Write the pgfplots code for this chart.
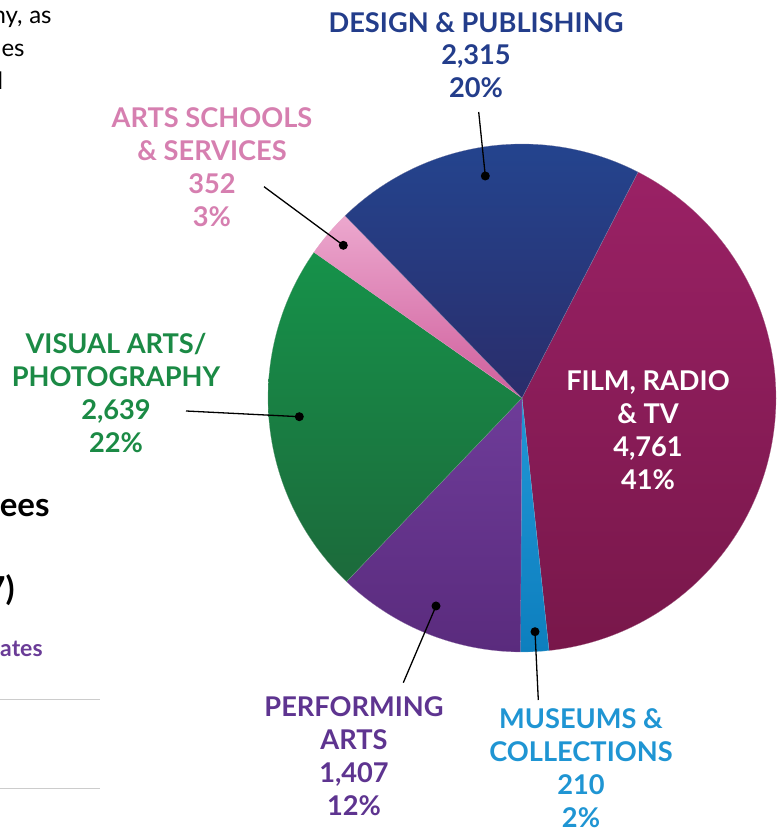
\documentclass[border=0pt]{standalone}
\usepackage{fontspec}
\setmainfont{Lato}
\usepackage{pgfplots}
\pgfplotsset{compat=1.18}
\definecolor{filmT}{HTML}{9A2165}
\definecolor{filmB}{HTML}{78174A}
\definecolor{musT}{HTML}{2196D6}
\definecolor{musB}{HTML}{0D7FBE}
\definecolor{perfT}{HTML}{6E3C99}
\definecolor{perfB}{HTML}{5A2B7D}
\definecolor{visT}{HTML}{16924A}
\definecolor{visB}{HTML}{1C6A3B}
\definecolor{artT}{HTML}{ECA8CE}
\definecolor{artB}{HTML}{CF5E9C}
\definecolor{desT}{HTML}{24448E}
\definecolor{desB}{HTML}{2A2D6B}
\definecolor{desC}{HTML}{233D8B}
\definecolor{artC}{HTML}{D67FB0}
\definecolor{visC}{HTML}{1B8A45}
\definecolor{perfC}{HTML}{5E3490}
\definecolor{musC}{HTML}{1F95D3}
\definecolor{ratesC}{HTML}{6A3C97}
\begin{document}
\begin{tikzpicture}
% values
\def\vFilm{4761}
\def\vMus{210}
\def\vPerf{1407}
\def\vVis{2639}
\def\vArt{352}
\def\vDes{2315}
\pgfmathsetmacro\T{\vFilm+\vMus+\vPerf+\vVis+\vArt+\vDes}
\pgfmathsetmacro\aZ{62.8}
\pgfmathsetmacro\cA{\aZ-\vFilm/\T*360}
\pgfmathsetmacro\cB{\cA-\vMus/\T*360}
\pgfmathsetmacro\cC{\cB-\vPerf/\T*360}
\pgfmathsetmacro\cD{\cC-\vVis/\T*360}
\pgfmathsetmacro\cE{\cD-\vArt/\T*360}
\pgfmathsetmacro\cF{\cE-\vDes/\T*360}
\begin{axis}[width=390.5pt,height=414.5pt,scale only axis,
  xmin=0,xmax=781,ymin=0,ymax=829,hide axis,clip=false,
  every axis plot/.append style={samples=120}]
\addplot[draw=filmB!60!white,line width=0.1pt,top color=filmT,bottom color=filmB,domain=\cA:\aZ] ({522+254*cos(x)},{431+254*sin(x)}) -- (axis cs:522,431) -- cycle;
\addplot[draw=musB!60!white,line width=0.1pt,top color=musT,bottom color=musB,domain=\cB:\cA] ({522+254*cos(x)},{431+254*sin(x)}) -- (axis cs:522,431) -- cycle;
\addplot[draw=perfB!60!white,line width=0.1pt,top color=perfT,bottom color=perfB,domain=\cC:\cB] ({522+254*cos(x)},{431+254*sin(x)}) -- (axis cs:522,431) -- cycle;
\addplot[draw=visB!60!white,line width=0.1pt,top color=visT,bottom color=visB,domain=\cD:\cC] ({522+254*cos(x)},{431+254*sin(x)}) -- (axis cs:522,431) -- cycle;
\addplot[draw=artB!60!white,line width=0.1pt,top color=artT,bottom color=artB,domain=\cE:\cD] ({522+254*cos(x)},{431+254*sin(x)}) -- (axis cs:522,431) -- cycle;
\addplot[draw=desB!60!white,line width=0.1pt,top color=desT,bottom color=desB,domain=\cF:\cE] ({522+254*cos(x)},{431+254*sin(x)}) -- (axis cs:522,431) -- cycle;
% leader lines
\pgfplotsset{leader/.style={black,line width=0.65pt,mark=*,mark size=1.9pt,mark indices={2},mark options={fill=black}}}
\addplot[leader] coordinates {(478.7,717) (485.3,653)};
\addplot[leader] coordinates {(264,642.3) (343.3,583.7)};
\addplot[leader] coordinates {(186,418) (299.3,412.3)};
\addplot[leader] coordinates {(403.3,146.3) (436,223)};
\addplot[leader] coordinates {(538.3,129) (535,197.3)};
% labels
\tikzset{lab/.style={font=\bfseries\fontsize{13.6}{16.4}\selectfont,align=center,inner sep=0pt}}
\node[lab,text=desC] at (axis cs:476,774) {DESIGN \& PUBLISHING\\2,315\\20\%};
\node[lab,text=artC] at (axis cs:212,662) {ARTS SCHOOLS\\\& SERVICES\\352\\3\%};
\node[lab,text=visC] at (axis cs:116,436) {VISUAL ARTS/\\PHOTOGRAPHY\\2,639\\22\%};
\node[lab,text=white] at (axis cs:648,399) {FILM, RADIO\\\& TV\\4,761\\41\%};
\node[lab,text=perfC] at (axis cs:354,73) {PERFORMING\\ARTS\\1,407\\12\%};
\node[lab,text=musC] at (axis cs:581,61) {MUSEUMS \&\\COLLECTIONS\\210\\2\%};
% cropped page fragments on the left
\node[anchor=base east,inner sep=0pt,font=\fontsize{12}{16.5}\selectfont] at (axis cs:23,805) {ny,};
\node[anchor=base east,inner sep=0pt,font=\fontsize{12}{16.5}\selectfont] at (axis cs:52,805) {as};
\node[anchor=base east,inner sep=0pt,font=\fontsize{12}{16.5}\selectfont] at (axis cs:25,772) {es};
\node[anchor=base east,inner sep=0pt,font=\fontsize{12}{16.5}\selectfont] at (axis cs:3.5,739) {d};
\node[anchor=base east,inner sep=0pt,font=\bfseries\fontsize{16.5}{20}\selectfont] at (axis cs:50,312) {ees};
\node[anchor=base east,inner sep=0pt,font=\bfseries\fontsize{16.5}{20}\selectfont] at (axis cs:15,228) {7)};
\node[anchor=base east,inner sep=0pt,text=ratesC,font=\bfseries\fontsize{11.5}{14}\selectfont] at (axis cs:43,172) {ates};
\addplot[color={rgb,255:red,204;green,204;blue,204},line width=0.5pt] coordinates {(0,129) (100,129)};
\addplot[color={rgb,255:red,204;green,204;blue,204},line width=0.5pt] coordinates {(0,40) (100,40)};
\end{axis}
\pgfresetboundingbox
\path (current axis.south west) rectangle (current axis.north east);
\end{tikzpicture}
\end{document}
